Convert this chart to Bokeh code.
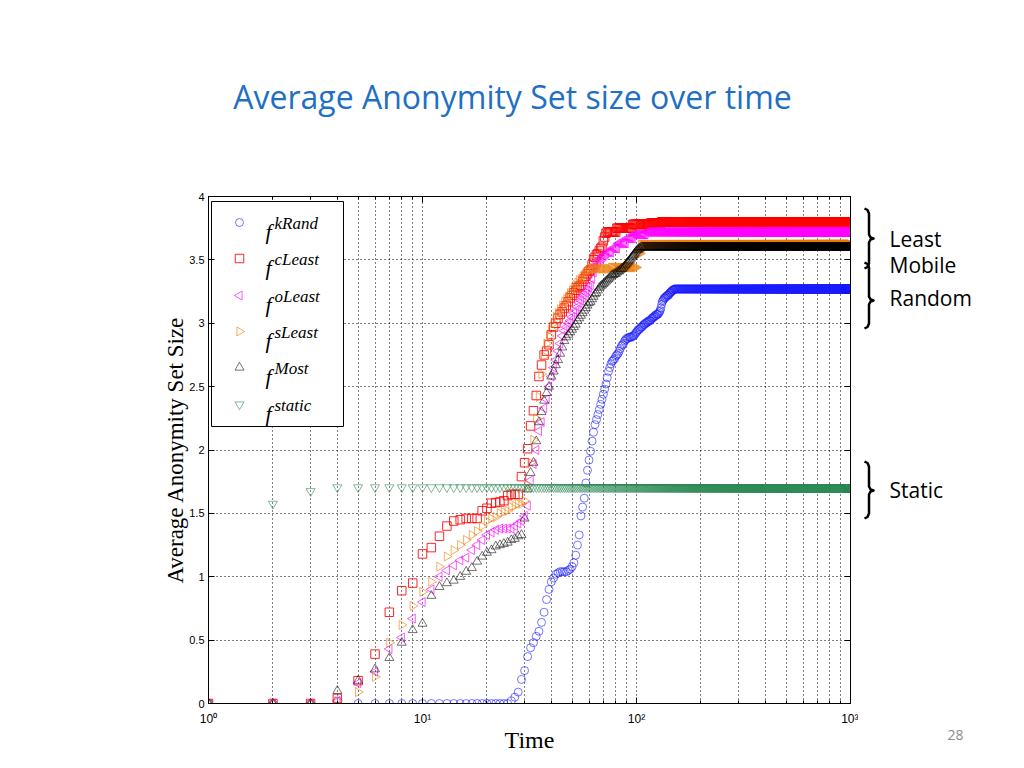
import math
from bokeh.plotting import figure
from bokeh.layouts import row, column
from bokeh.models import (Range1d, LinearScale, FixedTicker, CustomJSTickFormatter,
                          LogAxis, LinearAxis, Label, Title)
from bokeh.core.properties import value
from bokeh.embed import file_html
from bokeh.resources import INLINE

# ---------------- data (values at integer time steps t = 1, 2, 3, ...) ----------------
T_END = 1000

kRand_rise = ([0.0] * 3 + [0.02] + [0.0] * 21 +
              [0.02, 0.05, 0.09, 0.19, 0.26, 0.37, 0.44, 0.48, 0.53, 0.57, 0.64, 0.72, 0.82, 0.90, 0.96,
               0.99, 1.02, 1.03, 1.04, 1.04, 1.04, 1.04, 1.05, 1.06, 1.08,
               1.11, 1.17, 1.25, 1.33, 1.48, 1.55, 1.62, 1.74, 1.84, 1.92,
               1.99, 2.07, 2.14, 2.20, 2.24, 2.28, 2.32, 2.36, 2.40, 2.44,
               2.48, 2.52, 2.57, 2.62, 2.65, 2.68, 2.70, 2.71, 2.72, 2.74,
               2.75, 2.76, 2.78, 2.80, 2.82, 2.83, 2.84, 2.86, 2.87, 2.88,
               2.88, 2.89, 2.89, 2.89, 2.89, 2.90, 2.90, 2.91, 2.92, 2.93,
               2.94, 2.95, 2.95, 2.96, 2.97, 2.97, 2.98, 2.99, 2.99, 3.00,
               3.00, 3.01, 3.01, 3.02, 3.02, 3.02, 3.03, 3.04, 3.04, 3.05,
               3.05, 3.06, 3.06, 3.07, 3.07, 3.07, 3.08, 3.09, 3.10, 3.12,
               3.15, 3.17, 3.18, 3.19, 3.20, 3.20, 3.21, 3.21, 3.22, 3.22,
               3.22, 3.23, 3.24, 3.24, 3.25, 3.25, 3.26, 3.26, 3.26, 3.27])
kRand_plateau = 3.27

cLeast_rise = ([0.0, 0.0, 0.0, 0.04, 0.18, 0.39, 0.72, 0.89, 0.95, 1.18,
                1.23, 1.32, 1.40, 1.44, 1.45, 1.46, 1.46, 1.46, 1.52, 1.54,
                1.58, 1.585, 1.59, 1.60, 1.64, 1.65, 1.65, 1.65, 1.79, 1.90,
                2.01, 2.19, 2.31, 2.43, 2.58, 2.67, 2.75, 2.78, 2.83, 2.91,
                2.97, 3.00, 3.04, 3.07, 3.09, 3.12, 3.14, 3.17, 3.20, 3.22,
                3.24, 3.26, 3.28, 3.29, 3.30, 3.33, 3.35, 3.37, 3.39, 3.41,
                3.42, 3.46, 3.50, 3.52, 3.54, 3.55, 3.57, 3.59, 3.60, 3.65,
                3.68, 3.71] + [3.72] * 8 + [3.75] * 15 + [3.78] * 20 + [3.79] * 15)
cLeast_plateau = 3.80

oLeast_rise = ([0.0, 0.0, 0.0, 0.02, 0.16, 0.25, 0.43, 0.52, 0.67, 0.80,
                0.90, 1.00, 1.05, 1.09, 1.13, 1.15, 1.21, 1.25, 1.29, 1.33,
                1.35, 1.37, 1.38, 1.38, 1.38, 1.38, 1.40, 1.42, 1.44, 1.48,
                1.56, 1.76, 1.89, 2.00, 2.15, 2.22, 2.33, 2.40, 2.50, 2.58,
                2.65, 2.71, 2.78, 2.84, 2.90, 2.94, 2.97, 3.00, 3.02, 3.05,
                3.08, 3.10, 3.13, 3.16, 3.18, 3.20, 3.22, 3.24, 3.26, 3.28,
                3.30, 3.35, 3.40, 3.44, 3.46, 3.48, 3.50, 3.51, 3.52, 3.53,
                3.54, 3.55] + [3.56] * 4 + [3.59] * 5 + [3.63] * 8 + [3.67] * 7 + [3.70] * 14)
oLeast_plateau = 3.72

sLeast_rise = ([0.0, 0.0, 0.0, 0.02, 0.09, 0.21, 0.48, 0.62, 0.77, 0.88,
                0.96, 1.08, 1.16, 1.21, 1.25, 1.29, 1.33, 1.36, 1.40, 1.44,
                1.46, 1.47, 1.50, 1.51, 1.52, 1.55, 1.56, 1.575, 1.575, 1.60,
                1.72, 1.90, 2.08, 2.25, 2.42, 2.60, 2.74, 2.84, 2.90, 2.95,
                3.00, 3.05, 3.08, 3.11, 3.14, 3.17, 3.19, 3.21, 3.24, 3.26,
                3.28, 3.30, 3.32, 3.34, 3.35, 3.37, 3.38, 3.40, 3.41, 3.42]
               + [3.43] * 15 + [3.44] * 25 + [3.55] * 4)
sLeast_plateau = 3.62

Most_rise = [0.0, 0.0, 0.0, 0.10, 0.18, 0.27, 0.36, 0.48, 0.58, 0.63,
             0.85, 0.92, 0.95, 0.97, 1.00, 1.04, 1.07, 1.12, 1.16, 1.19,
             1.21, 1.24, 1.25, 1.26, 1.27, 1.29, 1.30, 1.32, 1.33, 1.46,
             1.69, 1.82, 1.90, 2.07, 2.22, 2.30, 2.39, 2.45, 2.50, 2.58,
             2.62, 2.67, 2.71, 2.76, 2.81, 2.86, 2.89, 2.91, 2.93, 2.95,
             2.97, 2.99, 3.02, 3.04, 3.06, 3.08, 3.10, 3.12, 3.14, 3.16,
             3.17, 3.19, 3.21, 3.23, 3.24, 3.26, 3.28, 3.29, 3.30, 3.31,
             3.32, 3.33, 3.34, 3.35, 3.36, 3.37, 3.38, 3.38, 3.39, 3.39,
             3.40, 3.41, 3.41, 3.42, 3.43, 3.43, 3.44, 3.45, 3.46, 3.47,
             3.48, 3.49, 3.50, 3.51, 3.52, 3.53, 3.54, 3.55, 3.56, 3.57,
             3.58, 3.58, 3.59, 3.59]
Most_plateau = 3.60

static_rise = [0.0, 1.575, 1.675]
static_plateau = 1.705

series_names = ["kRand", "cLeast", "oLeast", "sLeast", "Most", "static"]
tick_values_x = [1, 10, 100, 1000]
tick_values_y = [0, 0.5, 1, 1.5, 2, 2.5, 3, 3.5, 4]


def held(rise, plateau):
    # the value stays at its final level up to the end of the run
    return rise + [plateau] * (T_END - len(rise))


times = list(range(1, T_END + 1))
series = {
    "kRand": held(kRand_rise, kRand_plateau),
    "cLeast": held(cLeast_rise, cLeast_plateau),
    "oLeast": held(oLeast_rise, oLeast_plateau),
    "sLeast": held(sLeast_rise, sLeast_plateau),
    "Most": held(Most_rise, Most_plateau),
    "static": held(static_rise, static_plateau),
}

styles = {
    "kRand": dict(marker="circle", color="#1a1aff", alpha=0.6, size=8, angle=0.0),
    "cLeast": dict(marker="square", color="#ff0000", alpha=0.85, size=8.5, angle=0.0),
    "oLeast": dict(marker="triangle", color="#ff00ff", alpha=0.65, size=9, angle=math.pi / 2),
    "sLeast": dict(marker="triangle", color="#ee7a00", alpha=0.6, size=9, angle=-math.pi / 2),
    "Most": dict(marker="triangle", color="#000000", alpha=0.55, size=9, angle=0.0),
    "static": dict(marker="inverted_triangle", color="#2e8b57", alpha=0.6, size=9, angle=0.0),
}

TOP_H = 130  # height of the title strip (page pixels)
BORDER_TOP = 196 - TOP_H
BORDER_BOTTOM = 55

# ---------------- title strip ----------------
tf = figure(frame_width=1008, frame_height=TOP_H, x_range=Range1d(0, 1008),
            y_range=Range1d(TOP_H, 0), output_backend="svg", toolbar_location=None,
            x_axis_location=None, y_axis_location=None,
            min_border_left=0, min_border_right=0, min_border_top=0, min_border_bottom=0,
            background_fill_color="white", border_fill_color="white")
tf.outline_line_color = None
tf.grid.grid_line_color = None
tf.add_layout(Label(x=512, y=96, text="Average Anonymity Set size over time",
                    text_align="center", text_baseline="alphabetic", text_font="Open Sans",
                    text_font_size="32px", text_color="#1f6fc4"))

# ---------------- main figure ----------------
p = figure(frame_width=642, frame_height=507, x_axis_type="log",
           x_range=Range1d(1, 1000), y_range=Range1d(0, 4),
           output_backend="svg", toolbar_location=None,
           min_border_left=208, min_border_right=8, min_border_top=BORDER_TOP,
           min_border_bottom=BORDER_BOTTOM,
           background_fill_color="white", border_fill_color="white")
p.outline_line_color = "black"

# pixel-style helper ranges for the legend box
p.extra_x_ranges = {"px": Range1d(208, 850)}
p.extra_y_ranges = {"px": Range1d(703, 196)}
p.extra_x_scales = {"px": LinearScale()}
p.extra_y_scales = {"px": LinearScale()}

minor_x = [m * 10 ** k for k in range(3) for m in range(2, 10)]
xticker = FixedTicker(ticks=tick_values_x, minor_ticks=minor_x)
yticker = FixedTicker(ticks=tick_values_y)
xfmt = CustomJSTickFormatter(code="""
const sup = {0: '\u2070', 1: '\u00b9', 2: '\u00b2', 3: '\u00b3'};
return '10' + sup[Math.round(Math.log10(tick))];
""")
yfmt = CustomJSTickFormatter(code="return tick.toString();")

for ax in p.xaxis:
    ax.ticker = xticker
    ax.formatter = xfmt
for ax in p.yaxis:
    ax.ticker = yticker
    ax.formatter = yfmt

p.xaxis.axis_label = "Time"
p.yaxis.axis_label = "Average Anonymity Set Size"
for ax in list(p.xaxis) + list(p.yaxis):
    ax.axis_label_text_font = "Liberation Serif"
    ax.axis_label_text_font_style = "normal"
    ax.axis_label_text_color = "black"
    ax.major_label_text_font = "Liberation Sans"
    ax.major_label_text_font_size = "11px"
    ax.major_label_text_color = "black"
    ax.axis_line_color = "black"
    ax.major_tick_line_color = "black"
    ax.minor_tick_line_color = "black"
    ax.major_tick_in = 6
    ax.major_tick_out = 0
    ax.minor_tick_in = 3
    ax.minor_tick_out = 0
    ax.major_label_standoff = 4
p.xaxis.major_label_text_font_size = "12px"
p.xaxis.major_label_standoff = 8
p.xaxis.axis_label_text_font_size = "24px"
p.yaxis.axis_label_text_font_size = "23px"
p.xaxis.axis_label_standoff = -2
p.yaxis.axis_label_standoff = -2
p.yaxis.minor_tick_line_color = None

blank = CustomJSTickFormatter(code="return '';")
top_ax = LogAxis(ticker=xticker, formatter=blank, major_tick_in=6, major_tick_out=0,
                 minor_tick_in=3, minor_tick_out=0, major_label_standoff=0,
                 axis_line_color="black")
right_ax = LinearAxis(ticker=yticker, formatter=blank, major_tick_in=6, major_tick_out=0,
                      minor_tick_line_color=None, major_label_standoff=0,
                      axis_line_color="black")
p.add_layout(top_ax, "above")
p.add_layout(right_ax, "right")

for g in (p.xgrid, p.ygrid):
    g.grid_line_color = "black"
    g.grid_line_dash = "1 3"
    g.grid_line_alpha = 1.0
p.xgrid.minor_grid_line_color = "black"
p.xgrid.minor_grid_line_dash = "1 3"
p.xgrid.minor_grid_line_alpha = 1.0

for name in series_names:
    st = styles[name]
    p.scatter(x=times, y=series[name], marker=st["marker"], size=st["size"], angle=st["angle"],
              fill_color=None, line_color=st["color"], line_alpha=st["alpha"], line_width=1)

# legend (drawn like the MATLAB legend box)
legend_rows = [222, 258, 295, 331, 367, 404]
p.quad(left=[211], right=[343], top=[201], bottom=[426], fill_color="white",
       line_color="black", line_width=1, x_range_name="px", y_range_name="px")
for name, ry in zip(series_names, legend_rows):
    st = styles[name]
    p.scatter(x=[239], y=[ry], marker=st["marker"], size=st["size"], angle=st["angle"],
              fill_color=None, line_color=st["color"], line_alpha=st["alpha"], line_width=1,
              x_range_name="px", y_range_name="px")
p.text(x=[265] * 6, y=[r + 9 for r in legend_rows], text=["f"] * 6,
       text_font=value("Liberation Serif"), text_font_style="italic", text_font_size="22px",
       text_baseline="alphabetic", text_color="black", x_range_name="px", y_range_name="px")
p.text(x=[274] * 6, y=[r + 1 for r in legend_rows], text=series_names,
       text_font=value("Liberation Serif"), text_font_style="italic", text_font_size="17px",
       text_baseline="alphabetic", text_color="black", x_range_name="px", y_range_name="px")

# ---------------- right-hand annotation strip (same frame geometry as the plot) ----------------
p2 = figure(frame_width=150, frame_height=507, x_range=Range1d(858, 1008),
            y_range=Range1d(703, 196), output_backend="svg", toolbar_location=None,
            x_axis_location=None, y_axis_location=None,
            min_border_left=0, min_border_right=0, min_border_top=BORDER_TOP,
            min_border_bottom=BORDER_BOTTOM,
            background_fill_color="white", border_fill_color="white")
p2.outline_line_color = None
p2.grid.grid_line_color = None


def brace(y0, ym, y1, xl=864, xv=868.5, xt=873):
    xs = [xl, xl + 3, xv, xv, xv + 1.5, xt, xv + 1.5, xv, xv, xl + 3, xl]
    ys = [y0, y0 + 1.5, y0 + 5, ym - 4, ym - 1.2, ym, ym + 1.2, ym + 4, y1 - 5, y1 - 1.5, y1]
    return xs, ys


for (a, b, c) in [(208, 238, 268), (262, 300, 328), (461, 490, 518)]:
    bx, by = brace(a, b, c)
    p2.line(bx, by, line_color="black", line_width=2.5, line_join="round")

for txt, ty in [("Least", 238), ("Mobile", 264), ("Random", 297), ("Static", 489)]:
    p2.add_layout(Label(x=889, y=ty, text=txt, text_align="left", text_baseline="middle",
                        text_font="Open Sans", text_font_size="21px", text_color="black"))

p2.add_layout(Title(text="28", align="left", offset=89, standoff=48,
                    text_font="Open Sans", text_font_size="14px", text_font_style="normal",
                    text_color="#8c8c8c"), "below")

layout = column(tf, row(p, p2))
open("out.html", "w").write(file_html(layout, INLINE))
